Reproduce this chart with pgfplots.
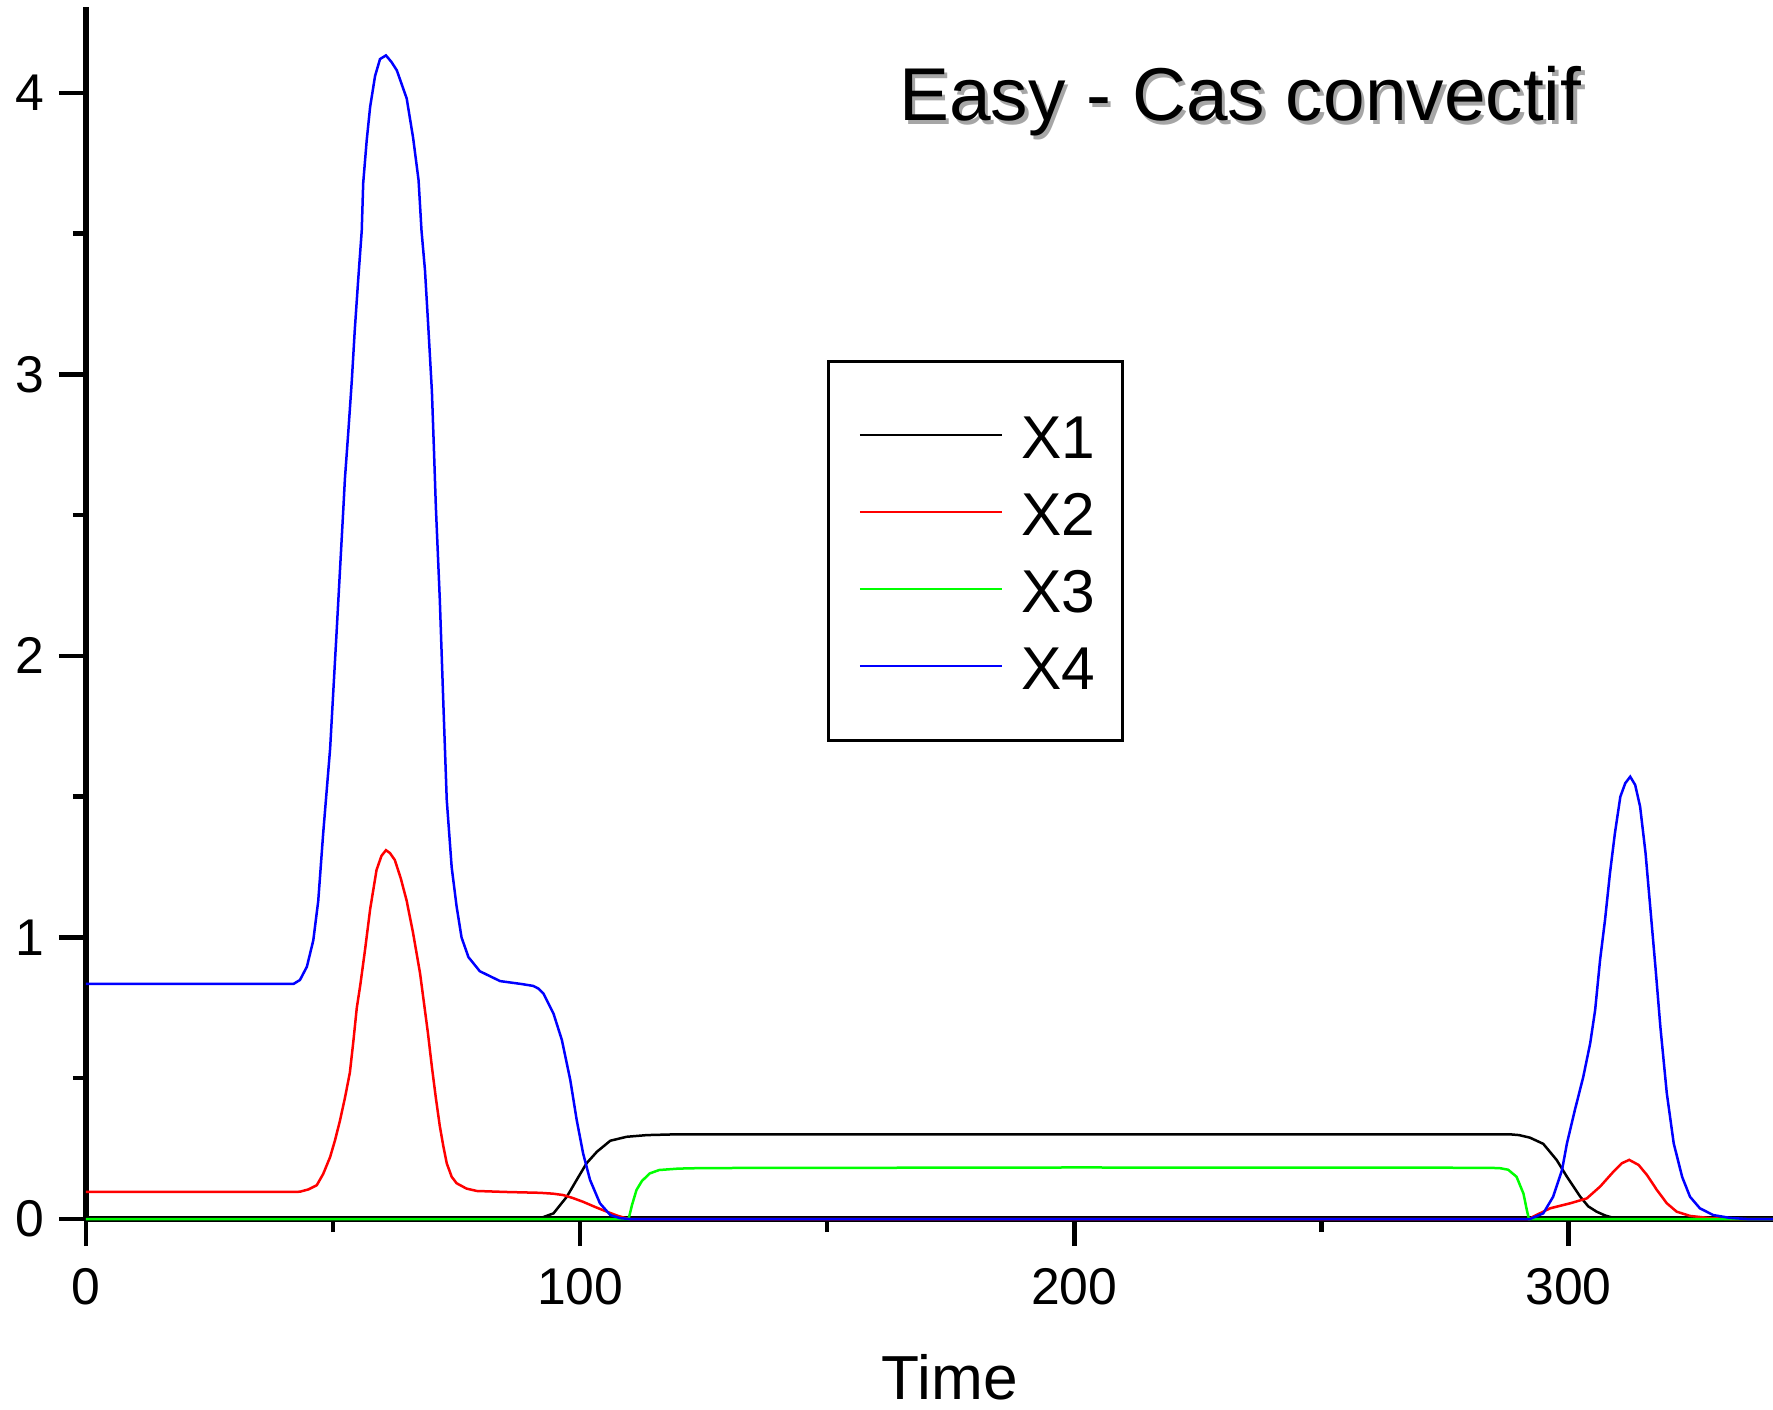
\documentclass[border=0pt]{standalone}
\usepackage{fontspec}
\setmainfont{Liberation Sans}
\usepackage{pgfplots}
\pgfplotsset{compat=1.18}
\begin{document}
\begin{tikzpicture}
\begin{axis}[
  at={(0,0)}, anchor=south west,
  scale only axis, width=168.7mm, height=121.2mm,
  xmin=0, xmax=341.4, ymin=0, ymax=4.305,
  axis x line*=bottom, axis y line*=left,
  axis line style={line width=0.55mm, -},
  xtick={0,100,200,300}, ytick={0,1,2,3,4},
  minor x tick num=1, minor y tick num=1,
  tick align=outside,
  major tick length=2.7mm, minor tick length=1.3mm,
  tick style={black, line width=0.45mm},
  major tick style={black, line width=0.45mm},
  minor tick style={black, line width=0.45mm},
  tick label style={font=\fontsize{14.7}{16}\selectfont},
  /pgf/number format/assume math mode=true,
  xticklabel style={inner sep=0pt, anchor=north, yshift=-2.2mm},
  yticklabel style={inner sep=0pt, anchor=east, xshift=-1.4mm},
  clip=false,
  xlabel={Time},
  xlabel style={font=\fontsize{17.7}{18}\selectfont, at={(axis description cs:0.512,-0.1493)}, anchor=base, inner sep=0pt},
  legend style={at={(0.439,0.7091)}, anchor=north west, draw=black, line width=0.3mm, fill=white,
    inner xsep=2.7mm, inner ysep=5.1mm, row sep=3.1mm, column sep=1.8mm,
    font=\fontsize{17.2}{18}\selectfont,
    nodes={inner sep=0pt, text height=4.6mm, text depth=0pt}},
  legend cell align=left,
  legend image code/.code={\path (0mm,0mm); \draw[#1, line width=0.25mm] (0.35mm,0mm) -- (14.6mm,0mm);},
]
\addplot[black, line width=0.25mm] coordinates {
(0,0) (91.5,0) (94.6,0.02) (97.3,0.079) (99.3,0.139) (101.3,0.198) (103.4,0.239) (106.1,0.278) (109.4,0.292) (113.5,0.298) (120,0.301) (200,0.301) (288,0.301) (290,0.298) (292.2,0.289) (294.9,0.267) (297.6,0.21) (299.7,0.15) (302.4,0.079) (304,0.045) (305.7,0.026) (307.5,0.012) (309.1,0.004) (312,0) (341.4,0)
};
\addlegendentry{X1}
\addplot[red, line width=0.25mm] coordinates {
(0,0.096) (42,0.096) (43.3,0.097) (45,0.105) (46.7,0.12) (48,0.16) (49.4,0.22) (50.4,0.28) (51.4,0.35) (52.4,0.43) (53.4,0.52) (54.1,0.63) (54.8,0.75) (55.5,0.83) (56.5,0.96) (57.5,1.10) (58.8,1.24) (59.8,1.29) (60.7,1.31) (61.5,1.30) (62.5,1.275) (63.7,1.21) (64.9,1.13) (66.2,1.015) (67.6,0.873) (68.3,0.78) (69.2,0.66) (70.0,0.54) (70.8,0.43) (71.6,0.33) (72.3,0.26) (73.0,0.198) (74,0.15) (75.0,0.127) (77,0.108) (79.1,0.0995) (85,0.096) (91.9,0.093) (94.5,0.09) (96.6,0.085) (98.6,0.074) (100.6,0.061) (103,0.043) (105.4,0.026) (107.5,0.012) (109.4,0.002) (110,0)
(292.2,0) (292.8,0.008) (296.3,0.038) (300.4,0.056) (303.7,0.073) (306.4,0.115) (309.1,0.168) (310.8,0.198) (312.3,0.21) (314.2,0.192) (315.9,0.156) (317.9,0.103) (319.9,0.056) (321.9,0.026) (324.6,0.011) (328.7,0.003) (332.7,0) (341.4,0)
};
\addlegendentry{X2}
\addplot[green, line width=0.25mm] coordinates {
(0,0) (109.8,0) (110.5,0.05) (111.4,0.103) (112.5,0.135) (114.1,0.162) (116,0.174) (119.9,0.179) (125,0.181) (200,0.183) (280,0.182) (286,0.181) (287.8,0.175) (289.5,0.15) (290.9,0.09) (291.6,0.03) (292,0) (341.4,0)
};
\addlegendentry{X3}
\addplot[blue, line width=0.25mm] coordinates {
(0,0.835) (42,0.835) (43.3,0.849) (44.7,0.896) (46.0,0.99) (47.0,1.13) (48.0,1.37) (49.4,1.67) (50.7,2.08) (52.1,2.53) (52.4,2.63) (53.1,2.80) (53.8,2.98) (54.4,3.16) (55.1,3.34) (55.8,3.51) (56.1,3.68) (56.8,3.83) (57.5,3.95) (58.5,4.06) (59.5,4.12) (60.7,4.133) (61.8,4.11) (62.9,4.08) (64.9,3.98) (66.2,3.84) (67.3,3.69) (67.9,3.51) (68.6,3.37) (69.3,3.16) (70.0,2.94) (70.4,2.74) (70.8,2.53) (71.6,2.20) (72.3,1.84) (73.0,1.49) (74.0,1.25) (75.0,1.11) (76.0,1.00) (77.4,0.93) (79.7,0.88) (83.8,0.845) (88,0.835) (90.5,0.828) (91.6,0.818) (92.6,0.80) (94.6,0.73) (96.3,0.636) (98.0,0.494) (99.3,0.352) (100.6,0.233) (102.0,0.139) (104.0,0.056) (106.1,0.014) (108.1,0.003) (110,0)
(292.2,0) (294.9,0.02) (296.9,0.079) (298.7,0.174) (299.7,0.269) (301.3,0.387) (303.0,0.505) (304.4,0.624) (305.4,0.742) (306.4,0.92) (307.4,1.062) (308.4,1.228) (309.4,1.37) (310.5,1.50) (311.5,1.548) (312.5,1.571) (313.5,1.542) (314.5,1.465) (315.6,1.30) (316.6,1.098) (317.6,0.896) (318.6,0.683) (319.9,0.447) (321.3,0.269) (323.0,0.15) (324.6,0.079) (326.6,0.038) (329.3,0.014) (332.7,0.004) (336,0) (341.4,0)
};
\addlegendentry{X4}
\node[anchor=base, font=\fontsize{21.3}{24}\selectfont, text=black!35, xshift=0.35mm, yshift=-0.35mm] at (axis cs:233.6,3.90) {Easy - Cas convectif};
\node[anchor=base, font=\fontsize{21.3}{24}\selectfont, text=black] at (axis cs:233.6,3.90) {Easy - Cas convectif};
\end{axis}
\pgfresetboundingbox
\path[use as bounding box] (-8.6mm,-19.0mm) rectangle (168.7mm,121.9mm);
\end{tikzpicture}
\end{document}
